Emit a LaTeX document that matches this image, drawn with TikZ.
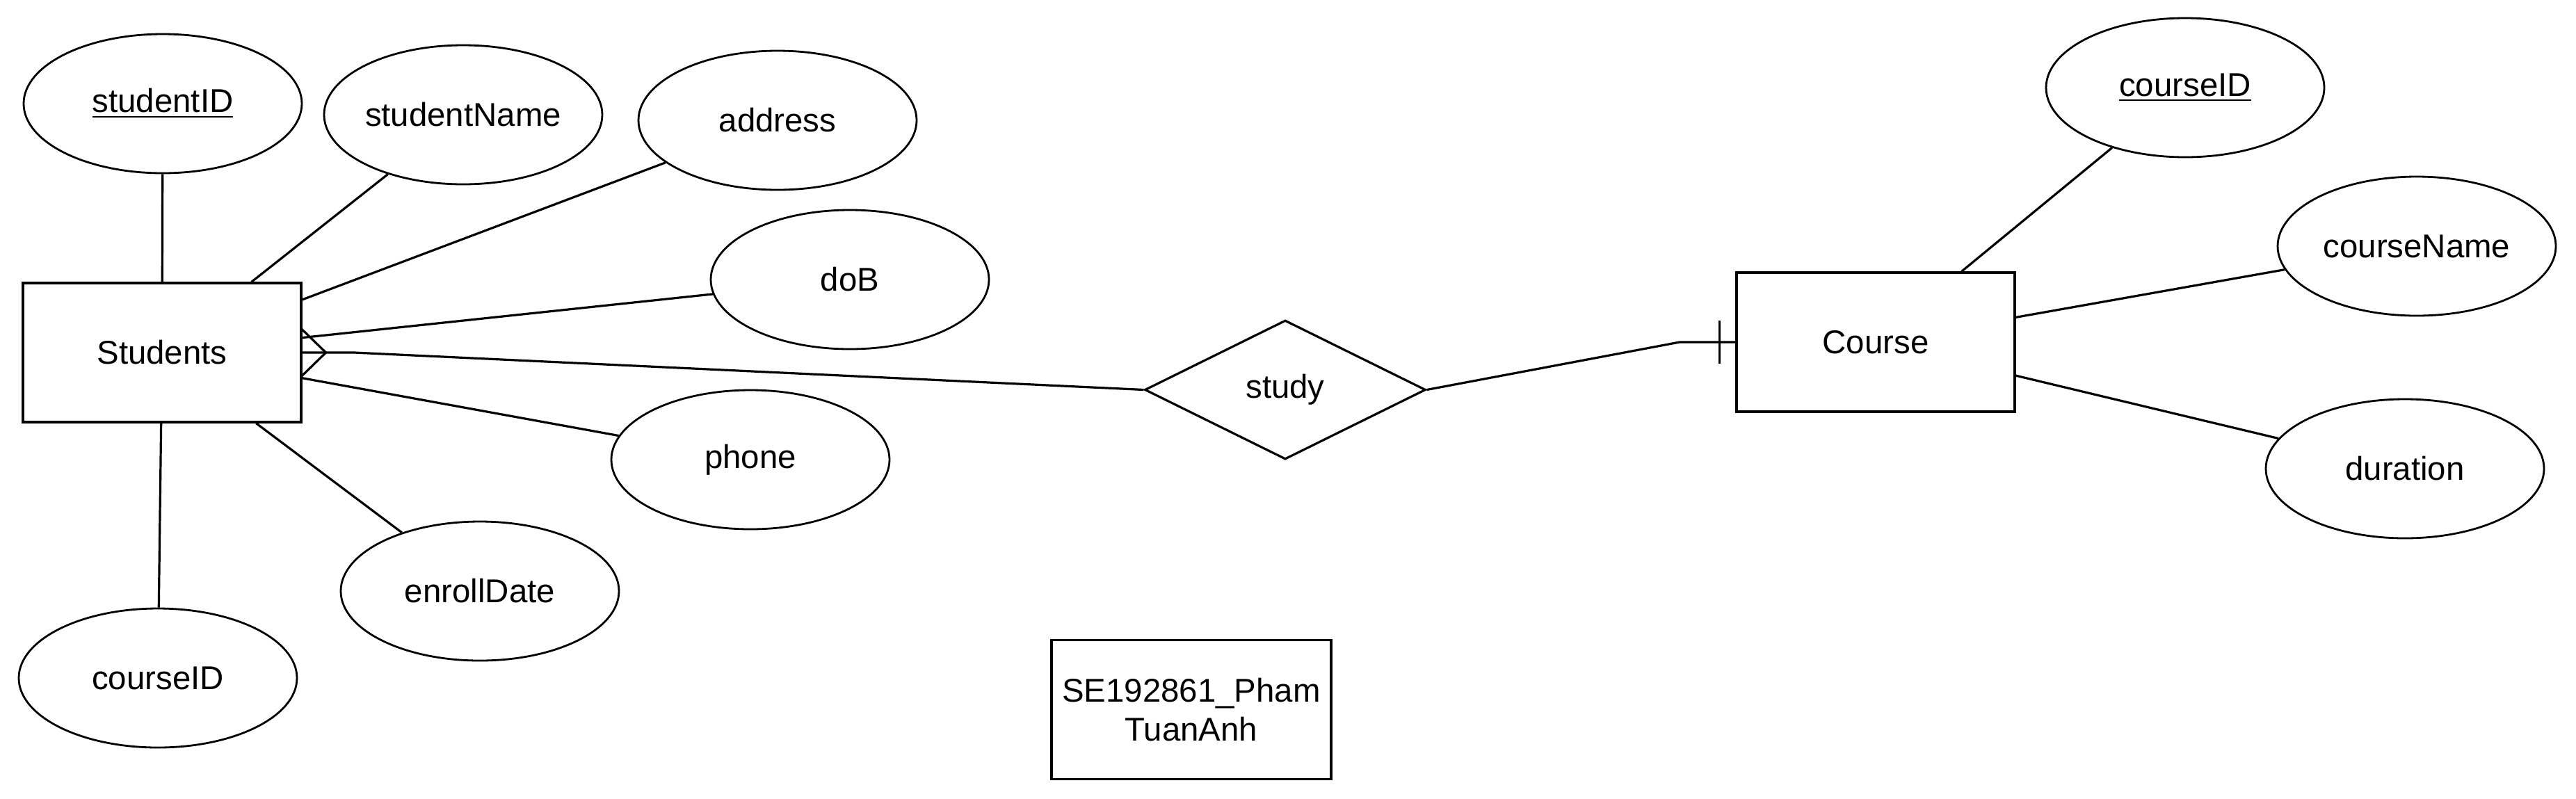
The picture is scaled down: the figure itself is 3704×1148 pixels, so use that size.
\documentclass[tikz,border=0pt]{standalone}
\usepackage{fontspec}
\setmainfont{Liberation Sans}
\usetikzlibrary{shapes.geometric,calc}
\begin{document}
\begin{tikzpicture}[x=0.25pt,y=-0.25pt, line width=0.8pt,
  every node/.style={font=\fontsize{11.85}{13.8}\selectfont},
  entity/.style={draw, rectangle, minimum width=100pt, minimum height=50pt, inner sep=0pt},
  attr/.style={draw, ellipse, minimum width=100pt, minimum height=50pt, inner sep=0pt, line width=0.7pt},
  rel/.style={draw, diamond, minimum width=101pt, minimum height=50pt, inner sep=0pt},
  note/.style={draw, rectangle, minimum width=100.5pt, minimum height=50pt, align=center, inner sep=0pt},
  conn/.style={line width=0.8pt}]
\useasboundingbox (0,0) rectangle (3704,1148);

% entities and relationship
\node[entity] (S) at (233,507) {Students};
\node[entity] (C) at (2697,492) {Course};
\node[rel] (R) at (1848,560.5) {study};

% Students attributes
\node[attr] (sid)    at (234,149)  {\underline{studentID}};
\node[attr] (sname)  at (666,165)  {studentName};
\node[attr] (addr)   at (1118,173) {address};
\node[attr] (dob)    at (1222,402) {doB};
\node[attr] (phone)  at (1079,661) {phone};
\node[attr] (enroll) at (690,850)  {enrollDate};
\node[attr] (cidS)   at (227,975)  {courseID};

% Course attributes
\node[attr] (cid)    at (3142,126) {\underline{courseID}};
\node[attr] (cname)  at (3475,354) {courseName};
\node[attr] (dur)    at (3458,674) {duration};

% note
\node[note] (sig) at (1713,1020.5) {SE192861\_Pham\\TuanAnh};

% attribute connectors
\foreach \a in {sid,sname,addr,dob,phone,enroll,cidS}
  \draw[conn] (S) -- (\a);
\foreach \a in {cid,cname,dur}
  \draw[conn] (C) -- (\a);

% Students -- study (many)
\coordinate (s1) at (509,507);
\draw[conn] (S.east) -- (s1) -- (R.west);
\draw[conn] ($(S.east)+(-2,-35)$) -- ($(S.east)+(34,0)$) -- ($(S.east)+(-2,35)$);

% study -- Course (one)
\coordinate (c1) at (2415,492);
\draw[conn] (R.east) -- (c1) -- (C.west);
\draw[conn] ($(C.west)+(-23,-31)$) -- ($(C.west)+(-23,31)$);
\end{tikzpicture}
\end{document}
